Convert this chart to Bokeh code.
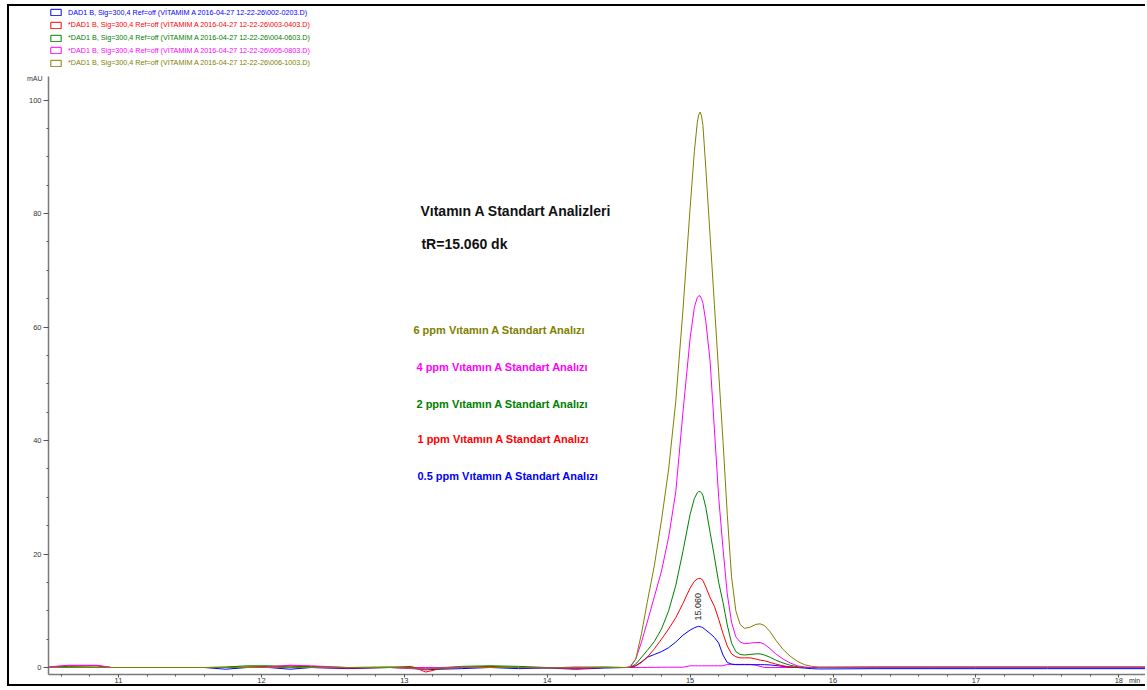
import math
from bokeh.plotting import figure
from bokeh.models import Legend, LegendItem, Label, Range1d, SingleIntervalTicker
from bokeh.embed import file_html
from bokeh.resources import INLINE

# ---------------- data ----------------
time_min = [
    10.51, 10.65, 10.85, 10.95, 11.6, 11.75, 11.9, 12.05, 12.2, 12.35, 12.6,
    12.9, 13.05, 13.15, 13.25, 13.4, 13.6, 13.8, 14.0, 14.2, 14.4, 14.55,
    14.58, 14.62, 14.66, 14.70, 14.75, 14.80, 14.85, 14.90, 14.95, 15.00,
    15.03, 15.05, 15.06, 15.07, 15.08, 15.09, 15.11, 15.14, 15.17, 15.20, 15.23, 15.26,
    15.29, 15.32, 15.35, 15.38, 15.42, 15.46, 15.49, 15.52, 15.56, 15.60,
    15.65, 15.70, 15.75, 15.80, 15.85, 15.90,
    15.95, 16.3, 16.7, 17.0, 17.5, 18.2,
]

blank_trace = [
    0, 0, 0, 0, 0, 0, 0, 0, 0, 0, 0, 0, 0, 0, 0, 0, 0, 0, 0, 0, 0, 0,
    0, 0, 0, 0.02, 0.03, 0.04, 0.05, 0.05, 0.05, 0.3,
    0.3, 0.3, 0.3, 0.3, 0.3, 0.3, 0.3, 0.3, 0.3, 0.3, 0.3, 0.55,
    0.55, 0.55, 0.55, 0.55, 0.55, 0.4, 0.2, 0, 0, 0,
    0, 0, 0, 0, 0, 0,
    0, 0, 0, 0, 0, 0,
]

ppm_0_5 = [
    0, 0, 0, 0, 0, -0.3, 0, 0, -0.3, 0, -0.2, 0, -0.1, -0.4, -0.3, -0.2, 0, -0.2, -0.1, -0.3, -0.1, 0,
    0, 0.3, 1.0, 1.8, 2.3, 2.8, 3.5, 4.5, 5.7, 6.6,
    7.0, 7.2, 7.25, 7.2, 7.1, 7.0, 6.6, 6.0, 5.3, 4.3, 2.2, 0.9,
    0.6, 0.5, 0.5, 0.5, 0.5, 0.5, 0.5, 0.5, 0.45, 0.35,
    0.2, 0.1, 0, -0.1, -0.2, -0.25,
    -0.25, -0.2, -0.2, -0.2, -0.2, -0.2,
]

ppm_1 = [
    0.1, 0.3, 0.3, 0, 0, 0, 0.1, 0.2, 0.3, 0, -0.1, 0, 0.2, -0.8, -0.2, 0, 0.2, 0, 0, -0.2, 0, 0,
    0, 0.3, 0.9, 1.8, 3.3, 5.0, 6.8, 8.8, 11.3, 14.0,
    15.2, 15.6, 15.7, 15.7, 15.6, 15.3, 14.2, 12.3, 10.8, 8.5, 6.0, 3.8,
    2.4, 1.9, 1.7, 1.7, 1.7, 1.5, 1.3, 1.2, 0.9, 0.6,
    0.3, 0.1, 0, 0, 0, 0,
    0, 0, 0, 0, 0, 0,
]

ppm_2 = [
    0, 0.2, 0.3, 0, 0, 0.1, 0.3, 0.3, 0.1, 0.2, 0, 0.1, 0, -0.3, -0.1, 0.2, 0.3, 0.2, 0, 0, 0.1, 0,
    0, 0.6, 1.8, 3.0, 4.6, 6.8, 10.0, 14.5, 20.5, 27.0,
    29.8, 30.8, 31.0, 31.0, 30.8, 30.3, 28.2, 23.8, 19.5, 15.0, 11.5, 7.5,
    4.3, 2.8, 2.3, 2.2, 2.3, 2.4, 2.4, 2.2, 1.8, 1.3,
    0.8, 0.4, 0.15, 0, 0, 0,
    0, 0, 0, 0, 0, 0,
]

ppm_4 = [
    0.1, 0.4, 0.4, 0, 0, 0, 0, 0.1, 0.4, 0.3, 0, 0, -0.2, -0.4, 0, 0.1, 0, 0, -0.1, 0.1, 0, 0,
    0, 1.5, 4.5, 8.0, 12.5, 17.0, 23.0, 31.0, 45.0, 58.0,
    63.5, 65.2, 65.5, 65.5, 65.0, 64.2, 61.0, 54.0, 42.0, 30.0, 21.0, 13.0,
    8.0, 5.4, 4.5, 4.2, 4.3, 4.4, 4.4, 4.1, 3.3, 2.4,
    1.5, 0.8, 0.3, 0.1, 0, 0,
    0, 0, 0, 0, 0, 0,
]

ppm_6 = [
    0, 0, 0, 0, 0, 0, 0, 0, 0, 0, 0, 0, -0.1, -0.2, -0.1, 0, 0, 0, -0.1, 0, 0, 0,
    0.2, 1.5, 6.0, 11.5, 18.0, 26.0, 35.0, 47.0, 63.0, 81.0,
    91.0, 96.0, 97.4, 97.9, 97.2, 95.5, 88.0, 76.0, 64.0, 52.0, 40.0, 27.0,
    16.0, 10.0, 7.6, 6.9, 7.1, 7.6, 7.7, 7.4, 6.3, 4.8,
    3.2, 2.0, 1.1, 0.5, 0.2, 0.1,
    0.1, 0.15, 0.15, 0.15, 0.15, 0.15,
]

series_values = [ppm_0_5, ppm_1, ppm_2, ppm_4, ppm_6]
series_colors = ["#0000ff", "#ff0000", "#008000", "#ff00ff", "#808000"]
legend_labels = [
    "DAD1 B, Sig=300,4 Ref=off (VİTAMİM A 2016-04-27 12-22-26\\002-0203.D)",
    "*DAD1 B, Sig=300,4 Ref=off (VİTAMİM A 2016-04-27 12-22-26\\003-0403.D)",
    "*DAD1 B, Sig=300,4 Ref=off (VİTAMİM A 2016-04-27 12-22-26\\004-0603.D)",
    "*DAD1 B, Sig=300,4 Ref=off (VİTAMİM A 2016-04-27 12-22-26\\005-0803.D)",
    "*DAD1 B, Sig=300,4 Ref=off (VİTAMİM A 2016-04-27 12-22-26\\006-1003.D)",
]
note_labels = [
    "0.5 ppm Vıtamın A Standart Analızı",
    "1 ppm Vıtamın A Standart Analızı",
    "2 ppm Vıtamın A Standart Analızı",
    "4 ppm Vıtamın A Standart Analızı",
    "6 ppm Vıtamın A Standart Analızı",
]
note_x = [13.092, 13.092, 13.085, 13.085, 13.064]
note_y = [33.8, 40.3, 46.5, 53.0, 59.4]
title_text = "Vıtamın A Standart Analizleri"
tr_text = "tR=15.060 dk"
peak_time_label = "15.060"
x_unit_text = "min"
y_unit_text = "mAU"

# ---------------- figure ----------------
FONT = "Liberation Sans"
X0, X1 = 10.2372, 18.2008
Y0, Y1 = -3.70, 116.50

p = figure(
    width=1138, height=682,
    x_range=Range1d(X0, X1), y_range=Range1d(Y0, Y1),
    output_backend="svg", toolbar_location=None,
    min_border_left=0, min_border_right=0, min_border_top=0, min_border_bottom=0,
)
p.styles = {"margin-left": "7px", "margin-top": "4px",
            "border-top": "2px solid #000", "border-left": "2px solid #000",
            "border-bottom": "2px solid #000"}
p.background_fill_color = "white"
p.border_fill_color = "white"
p.outline_line_color = None
p.xgrid.visible = False
p.ygrid.visible = False

p.xaxis.ticker = SingleIntervalTicker(interval=1, num_minor_ticks=5)
p.yaxis.ticker = SingleIntervalTicker(interval=20, num_minor_ticks=4)
p.xaxis.fixed_location = -1.2
p.yaxis.fixed_location = 10.51
p.xaxis.bounds = (10.51, X1)
p.yaxis.bounds = (-1.2, 104.2)
for ax in (p.xaxis[0], p.yaxis[0]):
    ax.axis_line_color = "#7a7a7a"
    ax.axis_line_width = 1.5
    ax.major_tick_line_color = "#555555"
    ax.minor_tick_line_color = "#555555"
    ax.major_tick_in = 0
    ax.major_tick_out = 5
    ax.minor_tick_in = 0
    ax.minor_tick_out = 2
    ax.major_label_text_font = FONT
    ax.major_label_text_font_size = "7.5px"
    ax.major_label_text_color = "#333333"
p.xaxis.major_tick_out = 3
p.xaxis.major_label_standoff = 1
p.yaxis.major_label_standoff = 2

p.line(time_min, blank_trace, line_color="#ff00ff", line_width=1)
for vals, col in zip(series_values, series_colors):
    p.line(time_min, vals, line_color=col, line_width=1)

# legends (one per trace so each label keeps its colour); the box glyph comes
# from a hidden zero-size quad so that the legend draws an open rectangle
for i, (lab, col) in enumerate(zip(legend_labels, series_colors)):
    r = p.quad(left=[time_min[0]], right=[time_min[0]], top=[0], bottom=[0],
               fill_alpha=0, line_color=col, line_width=1)
    r.visible = False
    lg = Legend(items=[LegendItem(label=lab, renderers=[r])],
                location=(40, 670.7 - 12.6 * i), padding=0, margin=0, spacing=0,
                border_line_alpha=0, background_fill_alpha=0,
                inactive_fill_alpha=0,
                label_text_color=col, label_text_font=FONT,
                label_text_font_size="7.2px", glyph_width=13, glyph_height=8,
                label_standoff=6, label_height=10)
    p.add_layout(lg)

p.add_layout(Label(x=13.113, y=80.4, text=title_text, text_font=FONT,
                   text_font_style="bold", text_font_size="14px",
                   text_baseline="middle", text_color="#111111"))
p.add_layout(Label(x=13.12, y=74.7, text=tr_text, text_font=FONT,
                   text_font_style="bold", text_font_size="14px",
                   text_baseline="middle", text_color="#111111"))
for t, xx, yy, col in zip(note_labels, note_x, note_y, series_colors):
    p.add_layout(Label(x=xx, y=yy, text=t, text_font=FONT,
                       text_font_style="bold", text_font_size="11px",
                       text_baseline="middle", text_color=col))
p.add_layout(Label(x=15.055, y=8.3, text=peak_time_label, angle=math.pi / 2,
                   text_font=FONT, text_font_size="9px",
                   text_baseline="middle", text_align="left", text_color="#222222"))
p.add_layout(Label(x=10.468, y=103.8, text=y_unit_text, text_font=FONT,
                   text_font_size="7px", text_align="right",
                   text_baseline="middle", text_color="#333333"))
p.add_layout(Label(x=18.15, y=-2.3, text=x_unit_text, text_font=FONT,
                   text_font_size="7px", text_align="right",
                   text_baseline="middle", text_color="#333333"))

open("out.html", "w").write(file_html(p, INLINE))
